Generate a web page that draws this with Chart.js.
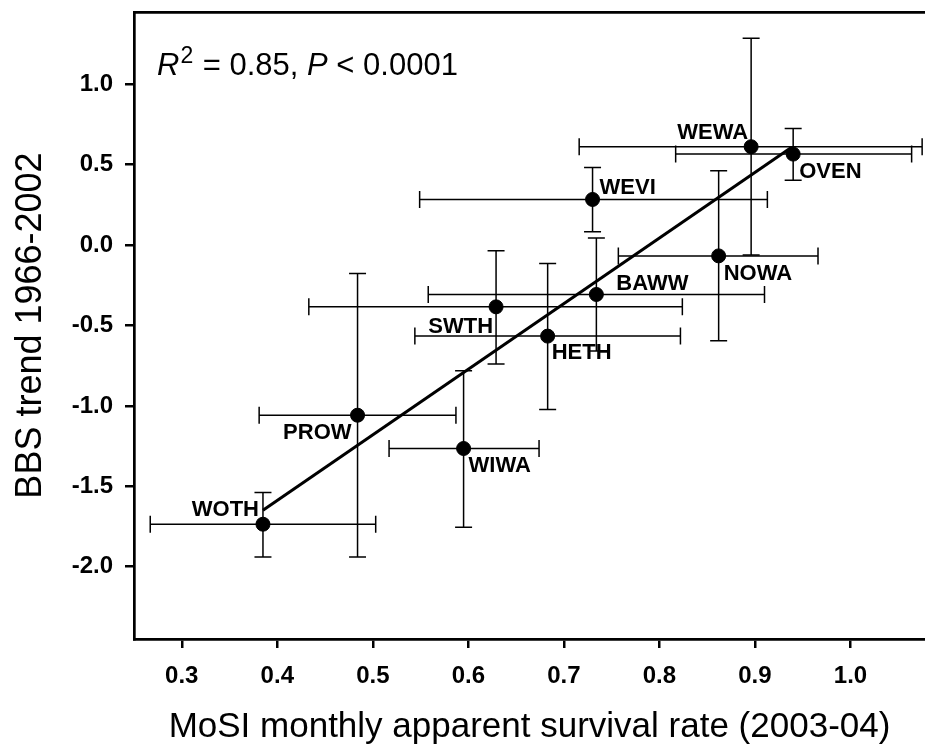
<!DOCTYPE html>
<html>
<head>
<meta charset="utf-8">
<script src="https://cdn.jsdelivr.net/npm/chart.js@4.4.1/dist/chart.umd.min.js"></script>
<style>
  html, body { margin: 0; padding: 0; background: #fff; }
  #wrap { width: 925px; height: 749px; }
</style>
</head>
<body>
<div id="wrap"><canvas id="chart" width="925" height="749"></canvas></div>
<script>
// species codes and values
var species = ['WOTH', 'PROW', 'WIWA', 'SWTH', 'HETH', 'BAWW', 'WEVI', 'NOWA', 'WEWA', 'OVEN'];
var survival = [0.385, 0.484, 0.595, 0.629, 0.683, 0.734, 0.730, 0.862, 0.896, 0.940];
var survivalLow = [0.267, 0.381, 0.517, 0.433, 0.544, 0.558, 0.549, 0.757, 0.716, 0.817];
var survivalHigh = [0.503, 0.587, 0.674, 0.824, 0.822, 0.910, 0.913, 0.966, 1.075, 1.064];
var trend = [-1.736, -1.058, -1.265, -0.384, -0.566, -0.307, 0.284, -0.067, 0.612, 0.566];
var trendLow = [-1.94, -1.94, -1.755, -0.74, -1.022, -0.658, 0.083, -0.595, -0.062, 0.404];
var trendHigh = [-1.539, -0.176, -0.782, -0.035, -0.114, 0.044, 0.483, 0.462, 1.286, 0.726];

// regression line end points
var fitX = [0.385, 0.938];
var fitY = [-1.649, 0.607];

var xTicks = [0.3, 0.4, 0.5, 0.6, 0.7, 0.8, 0.9, 1.0];
var yTicks = [-2.0, -1.5, -1.0, -0.5, 0.0, 0.5, 1.0];

var xTitle = 'MoSI monthly apparent survival rate (2003-04)';
var yTitle = 'BBS trend 1966-2002';

var FONT = '"Liberation Sans", Arial, sans-serif';

// where each species code sits relative to its dot: [dx, dy to baseline, align]
var labelPlace = {
    WOTH: [-4, -8, 'right'],
    PROW: [-6, 24, 'right'],
    WIWA: [5, 24, 'left'],
    SWTH: [-3, 26, 'right'],
    HETH: [4, 23, 'left'],
    BAWW: [20, -4, 'left'],
    WEVI: [7, -5, 'left'],
    NOWA: [5, 24, 'left'],
    WEWA: [-3, -8, 'right'],
    OVEN: [6, 24, 'left']
};

var errorBars = {
    id: 'errorBars',
    beforeDatasetsDraw: function(chart) {
        var ctx = chart.ctx;
        var xs = chart.scales.x, ys = chart.scales.y;
        var cap = 8.5;
        ctx.save();
        ctx.strokeStyle = '#000';
        ctx.lineWidth = 1.5;
        for (var i = 0; i < species.length; i++) {
            var px = xs.getPixelForValue(survival[i]);
            var py = ys.getPixelForValue(trend[i]);
            var x0 = xs.getPixelForValue(survivalLow[i]);
            var x1 = xs.getPixelForValue(survivalHigh[i]);
            var y0 = ys.getPixelForValue(trendLow[i]);
            var y1 = ys.getPixelForValue(trendHigh[i]);
            ctx.beginPath();
            ctx.moveTo(x0, py); ctx.lineTo(x1, py);
            ctx.moveTo(x0, py - cap); ctx.lineTo(x0, py + cap);
            ctx.moveTo(x1, py - cap); ctx.lineTo(x1, py + cap);
            ctx.moveTo(px, y0); ctx.lineTo(px, y1);
            ctx.moveTo(px - cap, y0); ctx.lineTo(px + cap, y0);
            ctx.moveTo(px - cap, y1); ctx.lineTo(px + cap, y1);
            ctx.stroke();
        }
        ctx.restore();
    }
};

var pointLabels = {
    id: 'pointLabels',
    afterDatasetsDraw: function(chart) {
        var ctx = chart.ctx;
        var xs = chart.scales.x, ys = chart.scales.y;
        ctx.save();
        ctx.fillStyle = '#000';
        ctx.font = 'bold 22px ' + FONT;
        ctx.textBaseline = 'alphabetic';
        species.forEach(function(name, i) {
            var p = labelPlace[name];
            ctx.textAlign = p[2];
            ctx.fillText(name, xs.getPixelForValue(survival[i]) + p[0], ys.getPixelForValue(trend[i]) + p[1]);
        });
        ctx.restore();
    }
};

var statsText = {
    id: 'statsText',
    afterDraw: function(chart) {
        var ctx = chart.ctx;
        var x = 157, base = 75;
        ctx.save();
        ctx.fillStyle = '#000';
        ctx.textAlign = 'left';
        ctx.textBaseline = 'alphabetic';
        ctx.font = 'italic 31px ' + FONT;
        ctx.fillText('R', x, base);
        x += ctx.measureText('R').width + 1;
        ctx.font = '23px ' + FONT;
        ctx.fillText('2', x, base - 11.7);
        x += ctx.measureText('2').width + 1;
        ctx.font = '31px ' + FONT;
        ctx.fillText(' = 0.85, ', x, base);
        x += ctx.measureText(' = 0.85, ').width;
        ctx.font = 'italic 31px ' + FONT;
        ctx.fillText('P', x, base);
        x += ctx.measureText('P').width;
        ctx.font = '31px ' + FONT;
        ctx.fillText(' < 0.0001', x, base);
        ctx.restore();
    }
};

window.addEventListener('load', function()
{
    var points = species.map(function(s, i) { return { x: survival[i], y: trend[i] }; });
    var fit = fitX.map(function(v, i) { return { x: v, y: fitY[i] }; });

    var tickFont = { family: FONT, size: 24, weight: 'bold' };

    new Chart(document.getElementById('chart'), {
        type: 'scatter',
        data: {
            datasets: [
                {
                    data: points,
                    backgroundColor: '#000',
                    borderColor: '#000',
                    pointRadius: 7,
                    pointHoverRadius: 7
                },
                {
                    type: 'line',
                    data: fit,
                    borderColor: '#000',
                    borderWidth: 3,
                    pointRadius: 0,
                    fill: false,
                    tension: 0
                }
            ]
        },
        options: {
            responsive: false,
            animation: false,
            devicePixelRatio: 1,
            layout: { autoPadding: false, padding: { top: 12, right: 0, bottom: 0, left: 0 } },
            plugins: { legend: { display: false }, tooltip: { enabled: false } },
            scales: {
                x: {
                    type: 'linear',
                    position: 'bottom',
                    min: 0.25,
                    max: 1.078,
                    afterFit: function(s) { s.height = 110; s.paddingLeft = 0; s.paddingRight = 0; },
                    afterBuildTicks: function(s) { s.ticks = xTicks.map(function(v) { return { value: v }; }); },
                    ticks: {
                        callback: function(v) { return Number(v).toFixed(1); },
                        font: tickFont, color: '#000', padding: 14,
                        autoSkip: false, maxRotation: 0
                    },
                    grid: { display: true, drawOnChartArea: false, drawTicks: true, tickLength: 9, color: '#000', lineWidth: 2.5 },
                    border: { display: true, color: '#000', width: 2.7 },
                    title: { display: true, text: xTitle, font: { family: FONT, size: 35 }, color: '#000', padding: { top: 0, bottom: 1 } }
                },
                xTop: {
                    type: 'linear',
                    position: 'top',
                    min: 0.25,
                    max: 1.078,
                    afterFit: function(s) { s.height = 0; s.paddingLeft = 0; s.paddingRight = 0; },
                    ticks: { display: false },
                    grid: { display: false, drawTicks: false },
                    border: { display: true, color: '#000', width: 2.7 }
                },
                y: {
                    type: 'linear',
                    position: 'left',
                    min: -2.45,
                    max: 1.45,
                    afterFit: function(s) { s.width = 134; s.paddingTop = 0; s.paddingBottom = 0; },
                    afterBuildTicks: function(s) { s.ticks = yTicks.map(function(v) { return { value: v }; }); },
                    ticks: {
                        callback: function(v) { return Number(v).toFixed(1); },
                        font: tickFont, color: '#000', padding: 12,
                        autoSkip: false
                    },
                    grid: { display: true, drawOnChartArea: false, drawTicks: true, tickLength: 9, color: '#000', lineWidth: 2.5 },
                    border: { display: true, color: '#000', width: 2.7 },
                    title: { display: true, text: yTitle, font: { family: FONT, size: 36 }, color: '#000', padding: { top: 9, bottom: 0 } }
                }
            }
        },
        plugins: [errorBars, pointLabels, statsText]
    });
});
</script>
</body>
</html>
